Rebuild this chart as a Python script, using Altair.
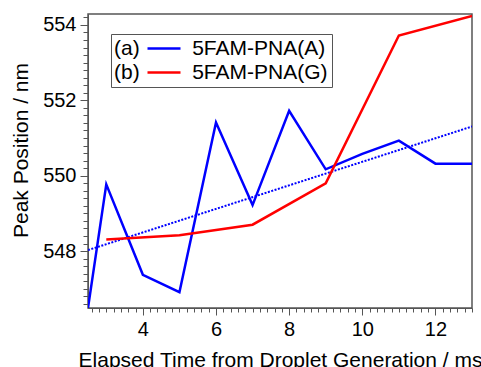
import altair as alt
import pandas as pd

# data
time_a = [2.5, 3, 4, 5, 6, 7, 8, 9, 10, 11, 12, 13]
peak_a = [546.49, 549.77, 547.37, 546.91, 551.41, 549.22, 551.72, 550.17, 550.58, 550.93, 550.32, 550.32]
time_g = [3, 5, 7, 9, 11, 13]
peak_g = [548.31, 548.42, 548.70, 549.80, 553.72, 554.24]
series_names = ["5FAM-PNA(A)", "5FAM-PNA(G)"]
series_colors = ["#0000FF", "#FF0000"]
legend_tags = ["(a)", "(b)"]
x_major = [4, 6, 8, 10, 12]
y_major = [548, 550, 552, 554]
x_minor = [round(2.6 + 0.2 * i, 1) for i in range(53)]
y_minor = [round(546.6 + 0.2 * i, 1) for i in range(39)]
x_domain = [2.5, 13.0]
y_domain = [546.49, 554.29]

df = pd.DataFrame({
    "time": time_a + time_g,
    "peak": peak_a + peak_g,
    "series": [series_names[0]] * len(time_a) + [series_names[1]] * len(time_g),
})

FONT = "Liberation Sans"
FS = 20
TFS = 21
AX = "#555555"
GAP = "\u00a0" * 9

# legend label: "(a)" + gap + series name; the line symbol is drawn inside the gap
label_expr = " : ".join(
    f"datum.label == '{n}' ? '{t}{GAP}{n}'" for n, t in zip(series_names, legend_tags)
) + " : datum.label"

xs = alt.Scale(domain=x_domain, nice=False, zero=False)
ys = alt.Scale(domain=y_domain, nice=False, zero=False)

base = alt.Chart(df)

lines = base.mark_line(strokeWidth=2.5, clip=True).encode(
    x=alt.X("time:Q", scale=xs, axis=alt.Axis(
        values=x_major, title="Elapsed Time from Droplet Generation / ms",
        orient="bottom", tickSize=7, labelPadding=4, titleBaseline="alphabetic",
        titleY=58, domainColor=AX, tickColor=AX, grid=False)),
    y=alt.Y("peak:Q", scale=ys, axis=alt.Axis(
        values=y_major, title="Peak Position / nm", orient="left",
        tickSize=8, labelPadding=4, titleBaseline="alphabetic", titleX=-61, titleY=136,
        domainColor=AX, tickColor=AX, grid=False)),
    color=alt.Color("series:N", scale=alt.Scale(domain=series_names, range=series_colors),
        legend=alt.Legend(
            title=None, orient="none", legendX=23, legendY=20,
            symbolType="M22,0H55", symbolSize=4, symbolStrokeWidth=2.5,
            labelFontSize=TFS, labelFont=FONT, labelColor="black",
            labelOffset={"expr": "-22"},
            labelExpr=label_expr, labelLimit=400,
            rowPadding=2, padding=4, strokeColor="#555555", fillColor="white",
        )),
    order=alt.Order("time:Q"),
)

trend = base.transform_filter(
    alt.datum.series == series_names[0]
).transform_regression("time", "peak").mark_line(
    color="#0000FF", strokeWidth=2, strokeDash=[2, 1.5], clip=True
).encode(
    x=alt.X("time:Q", scale=xs, axis=None),
    y=alt.Y("peak:Q", scale=ys, axis=None),
)

minor_x = base.mark_point(opacity=0).encode(
    x=alt.X("time:Q", scale=xs, axis=alt.Axis(
        values=x_minor, orient="bottom", labels=False, domain=False, grid=False,
        tickSize=4, tickColor=AX, title=None)),
)
minor_y = base.mark_point(opacity=0).encode(
    y=alt.Y("peak:Q", scale=ys, axis=alt.Axis(
        values=y_minor, orient="left", labels=False, domain=False, grid=False,
        tickSize=5, tickColor=AX, title=None)),
)

chart = alt.layer(minor_x, minor_y, trend, lines).resolve_axis(
    x="independent", y="independent"
).properties(
    width=384, height=294,
    background="white",
    autosize=alt.AutoSizeParams(type="none"),
    padding={"left": 88, "top": 14, "right": 9, "bottom": 59},
).configure_view(
    stroke=AX, strokeWidth=1.5
).configure_axis(
    labelFont=FONT, titleFont=FONT, labelFontSize=FS, titleFontSize=TFS,
    labelColor="black", titleColor="black", titleFontWeight="normal",
)

chart.save("out.html", embed_options={"renderer": "svg", "actions": False})
